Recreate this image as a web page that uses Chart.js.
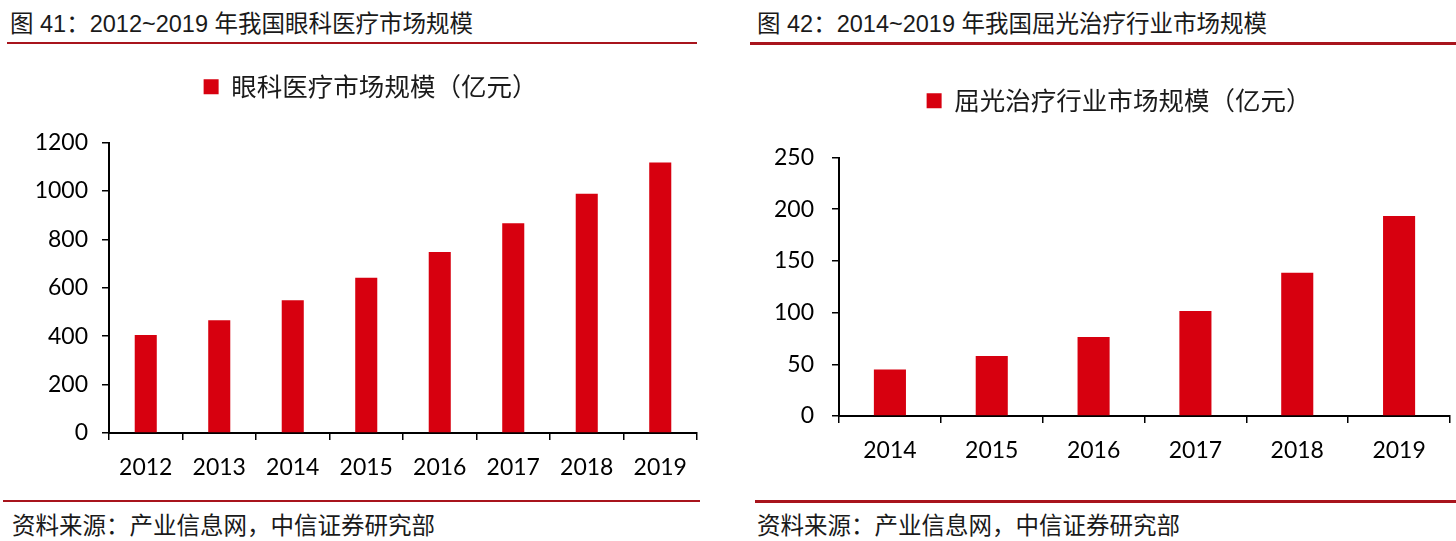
<!DOCTYPE html>
<html>
<head>
<meta charset="utf-8">
<script src="https://cdn.jsdelivr.net/npm/chart.js@4"></script>
<style>
  body { margin: 0; width: 1456px; height: 541px; background: #fff; position: relative; overflow: hidden;
         font-family: "Liberation Sans", "Noto Sans CJK SC", sans-serif; color: #1a1a1a; }
  .title { position: absolute; top: 10px; font-size: 23.5px; line-height: 28px; white-space: nowrap; }
  .src { position: absolute; top: 510px; font-size: 23.5px; line-height: 28px; white-space: nowrap;
         font-family: "Noto Sans CJK SC", sans-serif; }
  .rule { position: absolute; background: #a8141c; }
  canvas { position: absolute; }
</style>
</head>
<body>
<div class="title" style="left:10px">图 41：2012~2019 年我国眼科医疗市场规模</div>
<div class="rule" style="left:7px; top:42px; width:690px; height:2px"></div>
<div class="title" style="left:757px">图 42：2014~2019 年我国屈光治疗行业市场规模</div>
<div class="rule" style="left:750px; top:42px; width:706px; height:3px"></div>

<div style="position:absolute; left:0; top:29px; width:720px; height:470px"><canvas id="eyeChart"></canvas></div>
<div style="position:absolute; left:740px; top:42px; width:716px; height:458px"><canvas id="refractChart"></canvas></div>

<div class="rule" style="left:3px; top:500px; width:697px; height:2px"></div>
<div class="rule" style="left:755px; top:500px; width:701px; height:3px"></div>
<div class="src" style="left:12px">资料来源：产业信息网，中信证券研究部</div>
<div class="src" style="left:757px">资料来源：产业信息网，中信证券研究部</div>

<script>
// 图41 眼科医疗市场规模（亿元）
const eyeYears = ["2012", "2013", "2014", "2015", "2016", "2017", "2018", "2019"];
const eyeValues = [405, 466, 548, 641, 748, 866, 988, 1117];
const eyeLabel = "眼科医疗市场规模（亿元）";

// 图42 屈光治疗行业市场规模（亿元）
const refractYears = ["2014", "2015", "2016", "2017", "2018", "2019"];
const refractValues = [45, 58, 76.5, 101.5, 138.5, 193.5];
const refractLabel = "屈光治疗行业市场规模（亿元）";

const red = "#d7000f";
const tickFont = { family: "Lato, 'Open Sans', sans-serif", size: 23 };

// adds empty space under the legend so the plot starts lower,
// and nudges the legend sideways
const legendGap = {
  id: "legendGap",
  beforeLayout(chart, args, opts) {
    const lg = chart.legend;
    if (lg && !lg._gapPatched) {
      const fit = lg.fit;
      lg.fit = function () {
        fit.call(this);
        this.height += opts.extra || 0;
      };
      lg._gapPatched = true;
    }
  },
  afterLayout(chart, args, opts) {
    const lg = chart.legend;
    if (lg && opts.dx) {
      lg.left += opts.dx;
      lg.right += opts.dx;
    }
  },
};

function makeChart(id, labels, values, label, opts) {
  const ctx = document.getElementById(id).getContext("2d");
  return new Chart(ctx, {
    type: "bar",
    data: {
      labels: labels,
      datasets: [{
        label: label,
        data: values,
        backgroundColor: red,
        borderWidth: 0,
        barPercentage: opts.barPct,
        categoryPercentage: 1,
      }],
    },
    plugins: [legendGap],
    options: {
      responsive: true,
      maintainAspectRatio: false,
      animation: false,
      layout: { padding: { left: 0, right: opts.padRight, top: 0, bottom: opts.padBottom } },
      plugins: {
        tooltip: { enabled: false },
        legendGap: { extra: opts.gap, dx: opts.dx },
        legend: {
          position: "top",
          align: "center",
          labels: {
            boxWidth: 15,
            boxHeight: 15,
            padding: opts.legendPad,
            color: "#1a1a1a",
            font: { family: "'Noto Sans CJK SC', sans-serif", size: 25.5 },
          },
        },
      },
      scales: {
        x: {
          grid: { offset: true, drawOnChartArea: false, drawTicks: true, tickLength: 7, color: "#000", lineWidth: 1.5 },
          border: { color: "#000", width: 2 },
          ticks: { color: "#000", font: tickFont, padding: 14, maxRotation: 0 },
          afterFit: (scale) => { scale.height = 60; },
        },
        y: {
          min: 0,
          max: opts.max,
          ticks: {
            stepSize: opts.step,
            color: "#000",
            font: tickFont,
            padding: opts.yPad,
            callback: (v) => String(v),
          },
          grid: { drawOnChartArea: false, drawTicks: true, tickLength: 7, color: "#000", lineWidth: 1.5 },
          border: { color: "#000", width: 2 },
          afterFit: (scale) => { scale.width = opts.yWidth; },
        },
      },
    },
  });
}

makeChart("eyeChart", eyeYears, eyeValues, eyeLabel,
  { max: 1200, step: 200, barPct: 0.3, yWidth: 109, padRight: 23, padBottom: 6, legendPad: 45, gap: 33, dx: 22, yPad: 14 });
makeChart("refractChart", refractYears, refractValues, refractLabel,
  { max: 250, step: 50, barPct: 0.315, yWidth: 99, padRight: 6, padBottom: 24, legendPad: 46, gap: 34, dx: 24, yPad: 18 });
</script>
</body>
</html>
